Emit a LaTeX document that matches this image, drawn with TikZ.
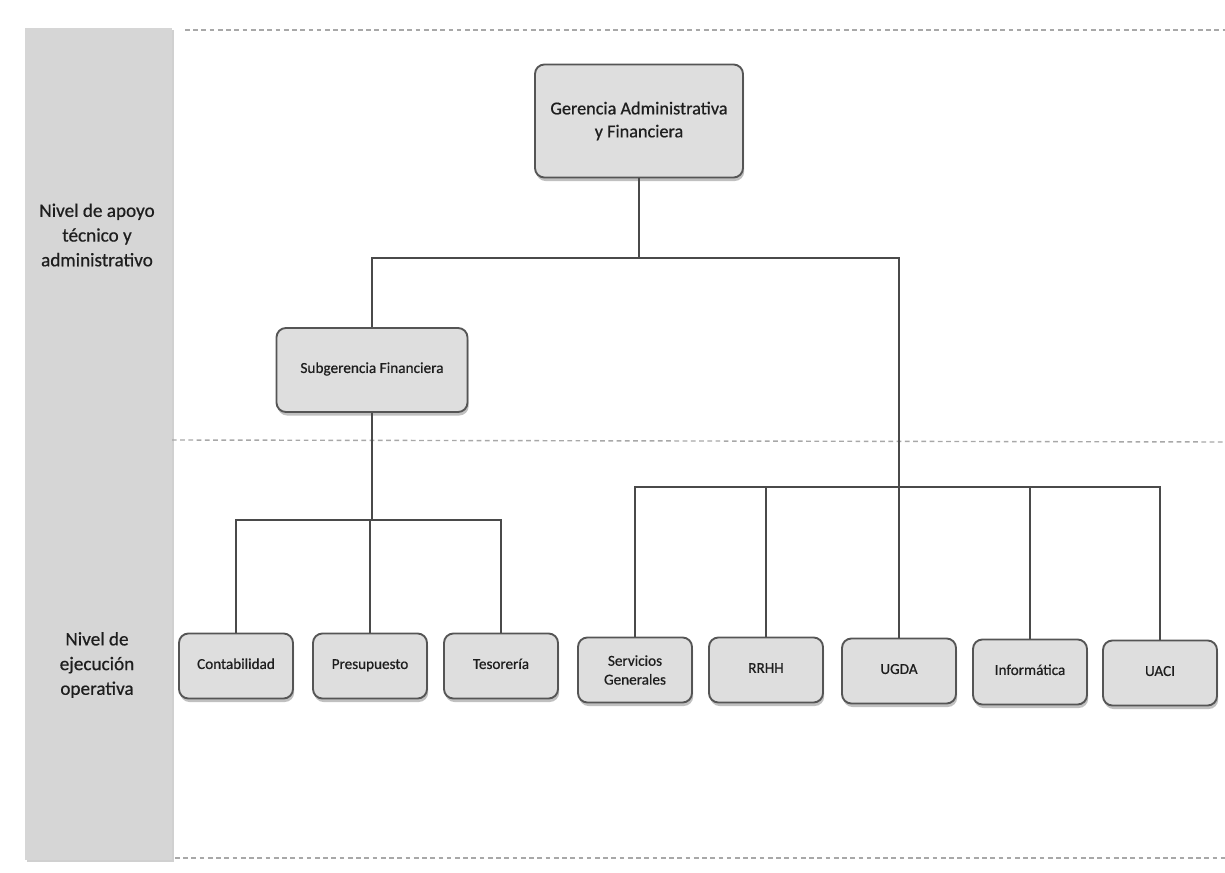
\documentclass[tikz,border=0pt]{standalone}
\usepackage{fontspec}
\setmainfont{Carlito}[FakeBold=0.6]
\usetikzlibrary{shadows}
\definecolor{boxfill}{HTML}{DEDEDE}
\definecolor{boxline}{HTML}{555555}
\definecolor{bandfill}{HTML}{D6D6D6}
\definecolor{linecol}{HTML}{4A4A4A}
\definecolor{txt}{HTML}{1E1E1E}
\definecolor{dashcol}{HTML}{A8A8A8}
\tikzset{
  unit/.style={draw=boxline, line width=1.6pt, fill=boxfill, rounded corners=8pt,
    align=center, text=txt, inner sep=2pt,
    drop shadow={shadow xshift=1pt, shadow yshift=-3pt, opacity=0.35, fill=black!70}},
  small/.style={unit, minimum width=114*0.85pt, minimum height=65*0.85pt, font=\fontsize{12.9}{16}\selectfont},
  oneline/.style={small, text height=0.72em, text depth=0.22em},
  conn/.style={draw=linecol, line width=1.4pt},
  sep/.style={draw=dashcol, line width=1.2pt, dash pattern=on 4pt off 3pt},
  bandtxt/.style={align=center, text=txt, font=\fontsize{16.3}{21}\selectfont},
}
\begin{document}
\begin{tikzpicture}[x=0.85pt, y=-0.85pt]
\useasboundingbox[fill=white] (0,0) rectangle (1225,873);
% left band
\path[fill=bandfill, drop shadow={shadow xshift=2pt, shadow yshift=-2pt, opacity=0.3, fill=black!60}] (25,28) rectangle (172,860);
\node[bandtxt] (lvl1) at (97,235) {Nivel de apoyo\\técnico y\\administrativo};
\node[bandtxt] (lvl2) at (97,665) {Nivel de\\ejecución\\operativa};
% separators
\coordinate (s1a) at (185,30);  \coordinate (s1b) at (1225,30);
\coordinate (s2a) at (172,440); \coordinate (s2b) at (1225,442);
\coordinate (s3a) at (175,858); \coordinate (s3b) at (1225,858);
\draw[sep] (s1a) -- (s1b);
\draw[sep] (s2a) -- (s2b);
\draw[sep] (s3a) -- (s3b);
% boxes
\node[unit, minimum width=208*0.85pt, minimum height=113*0.85pt, font=\fontsize{15.5}{19.5}\selectfont] (ger) at (639,121) {Gerencia Administrativa\\y Financiera};
\node[unit, minimum width=191*0.85pt, minimum height=84*0.85pt, font=\fontsize{13}{16}\selectfont, text height=0.72em, text depth=0.22em] (sub) at (372,370) {Subgerencia Financiera};
\node[oneline] (con) at (236,666) {Contabilidad};
\node[oneline] (pre) at (370,666) {Presupuesto};
\node[oneline] (tes) at (501,666) {Tesorería};
\node[small] (ser) at (635,670) {Servicios\\Generales};
\node[oneline] (rrh) at (766,670) {RRHH};
\node[oneline] (ugd) at (899,671) {UGDA};
\node[oneline] (inf) at (1030,672) {Informática};
\node[oneline] (uac) at (1160,673) {UACI};
% connectors
\coordinate (gj) at (639,258);
\coordinate (lj) at (372,258);
\coordinate (rj) at (899,258);
\coordinate (sj) at (372,520);
\coordinate (rb) at (899,487);
\draw[conn] (ger.south) -- (gj);
\draw[conn] (sub.north) -- (lj) -- (rj) -- (rb);
\draw[conn] (sub.south) -- (sj);
\draw[conn] (con.north) |- (sj);
\draw[conn] (tes.north) |- (sj);
\draw[conn] (pre.north) -- (pre.north |- sj);
\draw[conn] (ser.north) |- (rb);
\draw[conn] (uac.north) |- (rb);
\draw[conn] (rrh.north) -- (rrh.north |- rb);
\draw[conn] (ugd.north) -- (rb);
\draw[conn] (inf.north) -- (inf.north |- rb);
\end{tikzpicture}
\end{document}
